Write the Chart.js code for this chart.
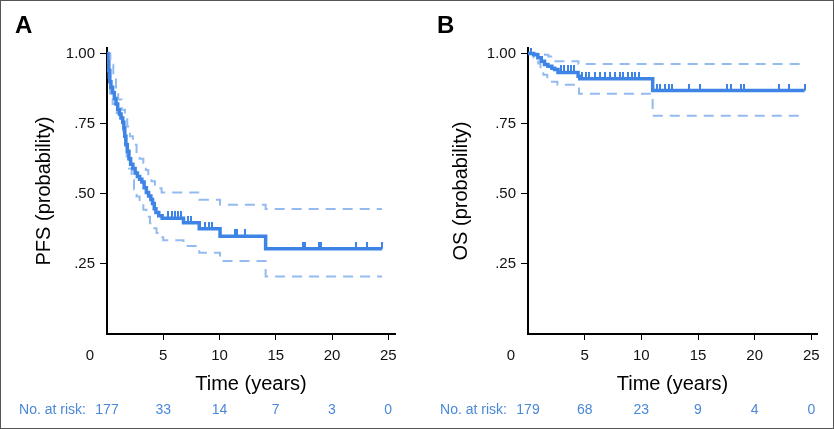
<!DOCTYPE html>
<html>
<head>
<meta charset="utf-8">
<script src="https://cdn.jsdelivr.net/npm/chart.js@4.4.1/dist/chart.umd.min.js"></script>
<style>
    html, body { margin: 0; padding: 0; background: #fff; }
    #wrap { position: relative; width: 834px; height: 429px; }
    #wrap canvas { position: absolute; top: 0; }
    #frame { position: absolute; left: 0; top: 0; width: 834px; height: 429px; box-sizing: border-box; border: 1px solid #555; pointer-events: none; }
</style>
</head>
<body>
<div id="wrap">
    <canvas id="km-pfs" width="417" height="429" style="left:0"></canvas>
    <canvas id="km-os" width="417" height="429" style="left:417px"></canvas>
    <div id="frame"></div>
</div>
<script>
/****************** DONNEES **********************/

// PFS - courbe de Kaplan-Meier
var pfsTime  = [0, 0.08, 0.16, 0.25, 0.35, 0.5, 0.65, 0.8, 0.95, 1.1, 1.25, 1.4, 1.5, 1.58, 1.68, 1.8, 1.95, 2.1, 2.3, 2.5, 2.7, 2.9, 3.1, 3.3, 3.5, 3.7, 3.9, 4.05, 4.2, 4.35, 4.6, 4.9, 6.8, 8.2, 10.05, 14.1, 24.45];
var pfsSurv  = [1, 0.97, 0.94, 0.9, 0.88, 0.86, 0.84, 0.82, 0.8, 0.785, 0.77, 0.755, 0.735, 0.705, 0.675, 0.652, 0.625, 0.605, 0.59, 0.574, 0.562, 0.552, 0.542, 0.522, 0.505, 0.492, 0.48, 0.465, 0.447, 0.433, 0.422, 0.413, 0.397, 0.375, 0.349, 0.304, 0.304];
var pfsUpperTime = [0, 0.3, 0.56, 0.8, 1.0, 1.3, 1.6, 1.8, 2.04, 2.3, 2.63, 2.9, 3.23, 3.45, 3.67, 3.95, 4.26, 4.55, 4.85, 8.2, 10.05, 14.1, 24.45];
var pfsUpper     = [1, 0.96, 0.913, 0.87, 0.836, 0.8, 0.776, 0.74, 0.705, 0.675, 0.645, 0.625, 0.61, 0.585, 0.562, 0.545, 0.532, 0.52, 0.505, 0.479, 0.461, 0.446, 0.446];
var pfsLowerTime = [0, 0.15, 0.27, 0.5, 0.86, 1.15, 1.45, 1.6, 1.75, 1.95, 2.19, 2.4, 2.63, 2.9, 3.23, 3.5, 3.82, 4.1, 4.4, 4.7, 5.0, 6.8, 8.2, 10.05, 14.1, 24.45];
var pfsLower     = [1, 0.9, 0.848, 0.82, 0.788, 0.75, 0.717, 0.675, 0.633, 0.59, 0.55, 0.515, 0.49, 0.465, 0.443, 0.418, 0.395, 0.377, 0.36, 0.345, 0.334, 0.314, 0.29, 0.26, 0.205, 0.205];
var pfsCensorTime = [5.45, 5.74, 6.04, 6.33, 6.54, 7.22, 7.51, 8.75, 9.05, 9.35, 11.37, 11.57, 12.26, 17.43, 17.6, 18.8, 19.0, 22.1, 23.1, 24.45];
var pfsCensorSurv = [0.413, 0.413, 0.413, 0.413, 0.413, 0.397, 0.397, 0.375, 0.375, 0.375, 0.349, 0.349, 0.349, 0.304, 0.304, 0.304, 0.304, 0.304, 0.304, 0.304];

// OS - courbe de Kaplan-Meier
var osTime  = [0, 0.5, 0.87, 1.17, 1.46, 1.76, 2.1, 2.35, 2.65, 4.42, 4.57, 11.0, 24.4];
var osSurv  = [1, 0.996, 0.985, 0.973, 0.961, 0.955, 0.948, 0.943, 0.933, 0.919, 0.91, 0.868, 0.868];
var osUpperTime = [0, 1.5, 1.8, 2.2, 4.45, 24.4];
var osUpper     = [1, 0.996, 0.99, 0.973, 0.963, 0.963];
var osLowerTime = [0, 0.5, 0.9, 1.1, 1.35, 1.7, 2.0, 2.6, 4.5, 11.0, 24.4];
var osLower     = [1, 0.985, 0.965, 0.945, 0.925, 0.91, 0.9, 0.889, 0.857, 0.778, 0.778];
var osCensorTime = [0.3, 2.9, 3.2, 3.5, 3.8, 4.1, 4.8, 5.1, 5.4, 5.9, 6.35, 6.79, 7.23, 7.68, 8.12, 8.42, 8.86, 9.16, 9.45, 9.75, 11.37, 11.66, 12.1, 12.4, 12.7, 14.17, 15.2, 17.58, 17.87, 18.76, 19.05, 22.15, 23.04, 24.4];
var osCensorSurv = [1, 0.933, 0.933, 0.933, 0.933, 0.933, 0.91, 0.91, 0.91, 0.91, 0.91, 0.91, 0.91, 0.91, 0.91, 0.91, 0.91, 0.91, 0.91, 0.91, 0.868, 0.868, 0.868, 0.868, 0.868, 0.868, 0.868, 0.868, 0.868, 0.868, 0.868, 0.868, 0.868, 0.868];

// Nombre de patients a risque
var riskTimes = [0, 5, 10, 15, 20, 25];
var pfsRisk = [177, 33, 14, 7, 3, 0];
var osRisk  = [179, 68, 23, 9, 4, 0];

/****************** FONCTION **********************/

var FONT = "'Liberation Sans', Arial, sans-serif";
var CURVE = "#3d84e6";
var BAND = "#94bbef";
var RISK = "#4a88d8";

function toPoints(xs, ys)
{
    var pts = [];
    for (var i = 0; i < xs.length; i++) {
        pts.push({x: xs[i], y: ys[i]});
    }
    return pts;
}

/** petit trait vertical au-dessus du point (patient censure) */
function censorMark(color)
{
    var c = document.createElement('canvas');
    c.width = 2;
    c.height = 14;
    var g = c.getContext('2d');
    g.fillStyle = color;
    g.fillRect(0, 0, 2, 7);
    return c;
}

var extraText = {
    id: 'extraText',
    afterDraw: function (chart) {
        var o = chart.options.plugins.extraText;
        var ctx = chart.ctx;
        var x = chart.scales.x;
        var area = chart.chartArea;
        ctx.save();
        ctx.fillStyle = '#000';
        ctx.font = 'bold 24px ' + FONT;
        ctx.textAlign = 'left';
        ctx.textBaseline = 'middle';
        ctx.fillText(o.letter, o.letterX, 26);

        ctx.font = '15px ' + FONT;
        ctx.fillStyle = '#111';
        ctx.textAlign = 'center';
        ctx.fillText('0', area.left - 17, 356);

        ctx.font = '14px ' + FONT;
        ctx.fillStyle = RISK;
        ctx.textAlign = 'right';
        ctx.fillText('No. at risk:', area.left - 21, 410);
        ctx.textAlign = 'center';
        for (var i = 0; i < riskTimes.length; i++) {
            ctx.fillText(String(o.risk[i]), x.getPixelForValue(riskTimes[i]), 410);
        }
        ctx.restore();
    }
};

function makeKmChart(id, cfg)
{
    var ctx = document.getElementById(id).getContext('2d');
    return new Chart(ctx, {
        type: 'line',
        data: {
            datasets: [{
                data: toPoints(cfg.time, cfg.surv),
                borderColor: CURVE,
                borderWidth: 3.5,
                stepped: true,
                pointRadius: 0
            }, {
                data: toPoints(cfg.censorTime, cfg.censorSurv),
                showLine: false,
                pointStyle: censorMark(CURVE),
                pointRadius: 7,
                pointHoverRadius: 7
            }, {
                data: toPoints(cfg.upperTime, cfg.upper),
                borderColor: BAND,
                borderWidth: 2,
                borderDash: [10, 7],
                stepped: true,
                pointRadius: 0
            }, {
                data: toPoints(cfg.lowerTime, cfg.lower),
                borderColor: BAND,
                borderWidth: 2,
                borderDash: [10, 7],
                stepped: true,
                pointRadius: 0
            }]
        },
        options: {
            responsive: false,
            animation: false,
            layout: {
                padding: {left: 0, top: 48, right: cfg.padRight, bottom: 0}
            },
            plugins: {
                legend: {display: false},
                tooltip: {enabled: false},
                extraText: {letter: cfg.letter, letterX: cfg.letterX, risk: cfg.risk}
            },
            scales: {
                x: {
                    type: 'linear',
                    min: 0,
                    max: cfg.xMax,
                    afterFit: function (scale) { scale.height = 95; },
                    border: {display: true, color: '#000', width: 2},
                    grid: {
                        drawOnChartArea: false,
                        tickLength: 6,
                        tickColor: function (c) { return c.tick && c.tick.value === 0 ? 'rgba(0,0,0,0)' : '#000'; }
                    },
                    ticks: {
                        stepSize: 5,
                        includeBounds: false,
                        maxRotation: 0,
                        padding: 7,
                        color: '#111',
                        font: {family: FONT, size: 15},
                        callback: function (v) { return v === 0 ? '' : v; }
                    },
                    title: {
                        display: true,
                        text: 'Time (years)',
                        color: '#000',
                        font: {family: FONT, size: 20},
                        padding: {top: 0, bottom: 33}
                    }
                },
                y: {
                    min: 0,
                    max: 1.02,
                    afterFit: function (scale) { scale.width = cfg.yWidth; },
                    border: {display: true, color: '#000', width: 2},
                    grid: {
                        drawOnChartArea: false,
                        tickLength: 7,
                        tickColor: function (c) { return c.tick && c.tick.value === 0 ? 'rgba(0,0,0,0)' : '#000'; }
                    },
                    ticks: {
                        stepSize: 0.25,
                        includeBounds: false,
                        padding: 5,
                        color: '#111',
                        font: {family: FONT, size: 15},
                        callback: function (v) {
                            if (v === 0) return '';
                            if (v === 1) return '1.00';
                            return '.' + Math.round(v * 100);
                        }
                    },
                    title: {
                        display: true,
                        text: cfg.yTitle,
                        color: '#000',
                        font: {family: FONT, size: 20},
                        padding: {top: 32, bottom: 0}
                    }
                }
            }
        },
        plugins: [extraText]
    });
}

makeKmChart('km-pfs', {
    time: pfsTime, surv: pfsSurv,
    upperTime: pfsUpperTime, upper: pfsUpper,
    lowerTime: pfsLowerTime, lower: pfsLower,
    censorTime: pfsCensorTime, censorSurv: pfsCensorSurv,
    risk: pfsRisk,
    yTitle: 'PFS (probability)',
    letter: 'A', letterX: 15,
    xMax: 25.6, yWidth: 107, padRight: 22
});

makeKmChart('km-os', {
    time: osTime, surv: osSurv,
    upperTime: osUpperTime, upper: osUpper,
    lowerTime: osLowerTime, lower: osLower,
    censorTime: osCensorTime, censorSurv: osCensorSurv,
    risk: osRisk,
    yTitle: 'OS (probability)',
    letter: 'B', letterX: 20,
    xMax: 25.5, yWidth: 111, padRight: 17
});
</script>
</body>
</html>
